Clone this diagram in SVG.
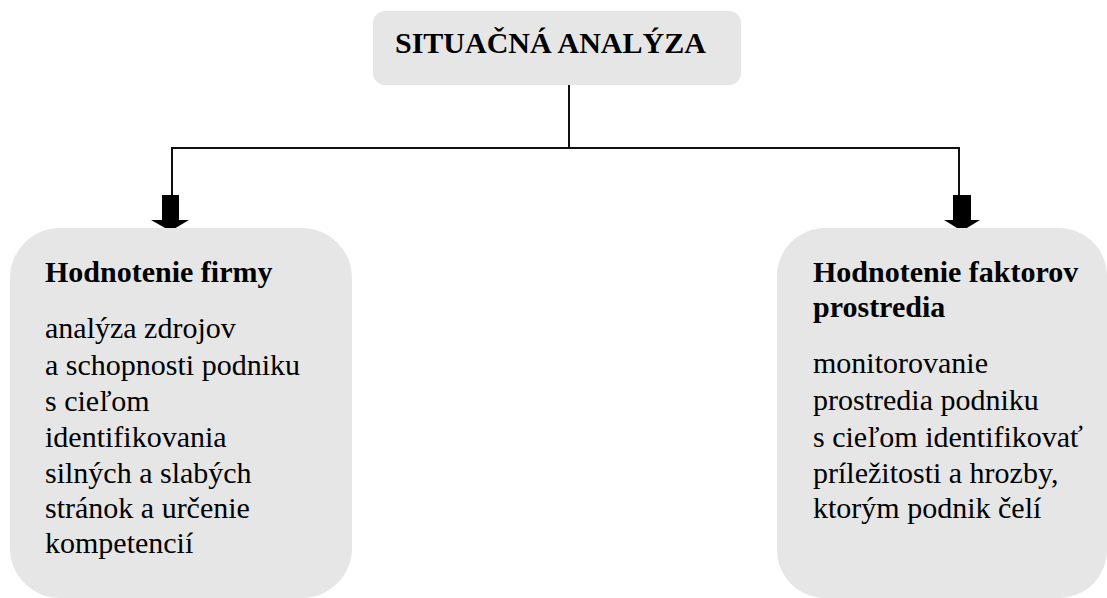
<svg xmlns="http://www.w3.org/2000/svg" width="1107" height="598" viewBox="0 0 1107 598">
<style>
.box{fill:#e6e6e6;}
text{font-family:'Liberation Serif','Times New Roman',Times,serif;font-size:30px;fill:#000;}
.b{font-weight:bold;}
.ln{fill:none;stroke:#111;stroke-width:2;}
.ar{fill:#000;}
</style>
<rect width="1107" height="598" fill="#fff"/>
<g id="connectors">
<polyline class="ln" points="569,85 569,148"/>
<polyline class="ln" points="172,195 172,148 959,148 959,195"/>
<polygon class="ar" points="162,195 179,195 179,220 189,220 170.5,231 151,220 162,220"/>
<polygon class="ar" points="953,195 971,195 971,220 980,220 962,231 944,220 953,220"/>
</g>
<g id="node-top">
<rect class="box" x="373" y="11" width="368" height="74" rx="12"/>
<text class="b" x="395" y="53">SITUAČNÁ ANALÝZA</text>
</g>
<g id="node-left">
<rect class="box" x="10" y="228" width="342" height="370" rx="50"/>
<text class="b" x="45" y="282">Hodnotenie firmy</text>
<text x="45" y="338">analýza zdrojov</text>
<text x="45" y="375">a schopnosti podniku</text>
<text x="45" y="411">s cieľom</text>
<text x="45" y="447">identifikovania</text>
<text x="45" y="483">silných a slabých</text>
<text x="45" y="518">stránok a určenie</text>
<text x="45" y="553">kompetencií</text>
</g>
<g id="node-right">
<rect class="box" x="777" y="228" width="330" height="370" rx="48"/>
<text class="b" x="813" y="282">Hodnotenie faktorov</text>
<text class="b" x="813" y="317">prostredia</text>
<text x="813" y="373">monitorovanie</text>
<text x="813" y="410">prostredia podniku</text>
<text x="813" y="447">s cieľom identifikovať</text>
<text x="813" y="483">príležitosti a hrozby,</text>
<text x="813" y="518">ktorým podnik čelí</text>
</g>
</svg>
